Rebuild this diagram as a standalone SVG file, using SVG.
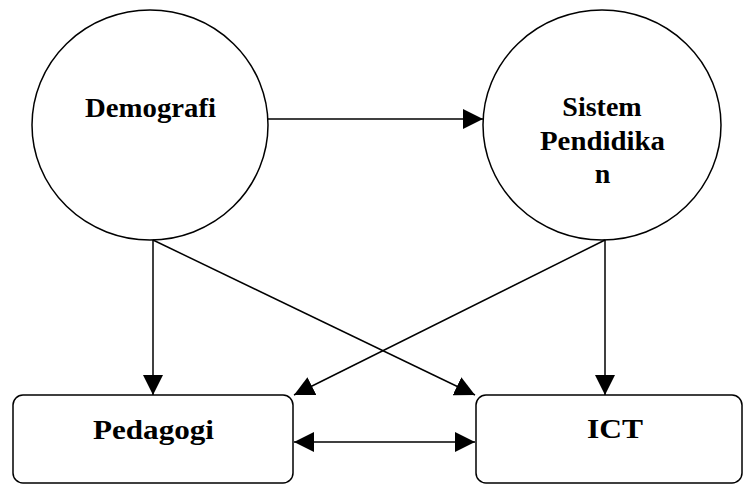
<svg xmlns="http://www.w3.org/2000/svg" width="745" height="485" viewBox="0 0 745 485">
<style>
.shape{fill:#fff;stroke:#000;stroke-width:1.5}
.conn line{stroke:#000;stroke-width:1.5;fill:none}
text{font-family:"Liberation Serif","Times New Roman",serif;font-weight:bold;font-size:28px;fill:#000;text-anchor:middle}
</style>
<defs>
<marker id="ah" markerUnits="userSpaceOnUse" markerWidth="22" markerHeight="22" viewBox="0 0 22 22" refX="20" refY="11" orient="auto-start-reverse">
<path d="M0,1 L20,11 L0,21 Z" fill="#000"/>
</marker>
</defs>
<rect width="745" height="485" fill="#fff"/>
<g id="demografi">
<ellipse class="shape" cx="150" cy="125" rx="118" ry="115"/>
<text x="150.5" y="117" textLength="131" lengthAdjust="spacingAndGlyphs">Demografi</text>
</g>
<g id="sistem-pendidikan">
<ellipse class="shape" cx="602" cy="125" rx="119" ry="115"/>
<text x="602" y="116">Sistem</text>
<text x="602.5" y="150" textLength="125" lengthAdjust="spacingAndGlyphs">Pendidika</text>
<text x="602.5" y="183">n</text>
</g>
<g id="pedagogi">
<rect class="shape" x="13" y="395" width="280" height="88" rx="10"/>
<text x="153.5" y="439" textLength="121" lengthAdjust="spacingAndGlyphs">Pedagogi</text>
</g>
<g id="ict">
<rect class="shape" x="476" y="395" width="266" height="88" rx="10"/>
<text x="615" y="438" textLength="56" lengthAdjust="spacingAndGlyphs">ICT</text>
</g>
<g id="connectors" class="conn">
<line x1="268" y1="119" x2="483" y2="119" marker-end="url(#ah)"/>
<line x1="153" y1="240" x2="153" y2="395" marker-end="url(#ah)"/>
<line x1="153" y1="240" x2="475" y2="395" marker-end="url(#ah)"/>
<line x1="605" y1="240" x2="294" y2="395" marker-end="url(#ah)"/>
<line x1="605" y1="240" x2="605" y2="395" marker-end="url(#ah)"/>
<line x1="294" y1="442" x2="475" y2="442" marker-start="url(#ah)" marker-end="url(#ah)"/>
</g>
</svg>
